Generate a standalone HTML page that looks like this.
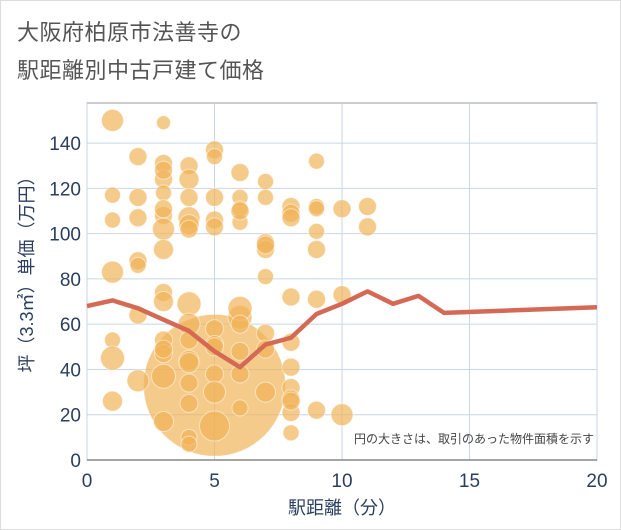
<!DOCTYPE html>
<html><head><meta charset="utf-8">
<style>
body{margin:0;background:#fff;}
#wrap{position:relative;width:619px;height:528px;border:1px solid #ddd;background:#fff;font-family:"Liberation Sans","Noto Sans CJK JP",sans-serif;}
.title{position:absolute;left:16px;font-size:22px;color:#555;letter-spacing:0.5px;}
</style></head><body>
<div id="wrap">
<div class="title" style="top:14px">大阪府柏原市法善寺の</div>
<div class="title" style="top:52px">駅距離別中古戸建て価格</div>
<svg id="chart" width="621" height="530" style="position:absolute;left:-1px;top:-1px"></svg>
</div>
<script>
const xTicks=[0,5,10,15,20];
const yTicks=[0,20,40,60,80,100,120,140];
const lineX=[0,1,2,3,4,5,6,7,8,9,10,11,12,13,14,20];
const lineY=[68,70.5,67,62,57,48,41,51,54,64.5,69,74.5,69,72.5,65,67.5];
const bubX=[5,1,3,2,5,5,9,4,3,3,4,6,7,1,2,3,4,5,6,7,8,9,10,11,1,2,3,4,5,6,8,9,11,3,4,6,7,9,2,3,7,2,1,3,7,8,9,10,3,5,6,7,4,6,1,3,4,2,5,8,1,3,4,5,6,7,8,4,5,6,8,1,3,4,5,7,8,10,2,4,8,9,4,3,6,5,8,4,3,3,4,5,6,8,9,7,6,4,3,8];
const bubY=[33,150,149,134,137,134,132,130,131,124,124,127,123,117,116,118,116,116,116,116,112,112,111,112,106,107,108,107,106,111,109,111,103,102,104,105,96,101,88,93,93,86,83,74,81,72,71,73,70,58,63,56,69,67,53,53,60,64,51,52,45,47,44,50,48,49,41,43,38,38,32,26,37,34,30,30,27,20,35,25,21,22,10,17,23,15,12,7,128,111,102,103,110,107,93,95,60,53,49,26];
const bubR=[71,11,7,9,9,8,8,9,9,9,10,9,8,8,9,8,9,9,8,8,9,8,9,9,8,9,9,11,9,8,9,8,9,11,10,8,9,8,9,10,9,8,11,9,8,9,9,9,10,9,12,9,12,12,8,9,11,9,9,9,12,9,10,9,9,9,9,10,9,9,9,10,12,9,11,10,9,11,11,9,9,9,8,10,8,15,8,8,9,9,9,9,9,9,9,9,9,9,9,9];
const L=87,R=597,T=103,B=460,XMAX=20,YMAX=157.7;
const sx=v=>L+(R-L)*v/XMAX, sy=v=>B-(B-T)*v/YMAX;
const svg=document.getElementById('chart');const NS='http://www.w3.org/2000/svg';
function mk(t,a){const e=document.createElementNS(NS,t);for(const k in a)e.setAttribute(k,a[k]);svg.appendChild(e);return e;}
let bg=mk('rect',{x:L,y:T,width:R-L,height:B-T,fill:'#fff',stroke:'#999','stroke-width':1});


yTicks.forEach(v=>{
 const g=mk('line',{x1:L,x2:R,y1:sy(v),y2:sy(v),stroke:'#c8d6e6','stroke-width':1});
 
 
 const t=mk('text',{x:L-6,y:sy(v)+7,'text-anchor':'end','font-size':19,fill:'#2a3f5f'});t.textContent=v;
 
 
});
xTicks.forEach(v=>{
 const g=mk('line',{x1:sx(v),x2:sx(v),y1:T,y2:B,stroke:'#c8d6e6','stroke-width':1});
 
 
 const t=mk('text',{x:sx(v),y:B+27,'text-anchor':'middle','font-size':19,fill:'#2a3f5f'});t.textContent=v;
 
 
});
bubX.forEach((x,i)=>{
 const c=mk('circle',{cx:sx(x),cy:sy(bubY[i]),r:bubR[i],fill:'rgba(240,178,85,0.68)',stroke:'rgba(255,255,255,0.5)','stroke-width':1});
 
 
});
const pl=mk('polyline',{points:lineX.map((x,i)=>sx(x)+','+sy(lineY[i])).join(' '),fill:'none',stroke:'#d46a55','stroke-width':4.5,'stroke-linejoin':'round'});


const ax=mk('line',{x1:L,x2:R,y1:B,y2:B,stroke:'#888','stroke-width':1.5});


const note=mk('text',{x:594,y:443,'text-anchor':'end','font-size':12,fill:'#444'});note.textContent='円の大きさは、取引のあった物件面積を示す';


const xt=mk('text',{x:342,y:514,'text-anchor':'middle','font-size':18,fill:'#2a3f5f'});xt.textContent='駅距離（分）';


const yt=mk('text',{x:0,y:0,'text-anchor':'middle','font-size':18,fill:'#2a3f5f',transform:'translate(33,270) rotate(-90)'});yt.textContent='坪（3.3㎡）単価（万円）';


</script>
</body></html>
